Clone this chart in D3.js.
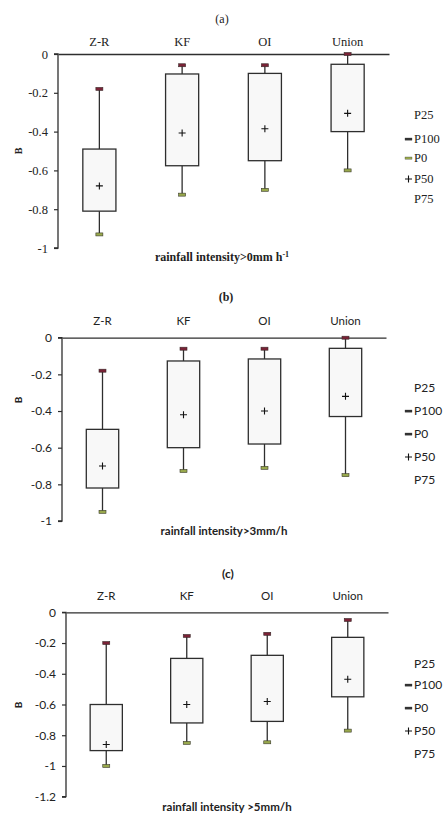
<!DOCTYPE html>
<html>
<head>
<meta charset="utf-8">
<script src="https://cdn.jsdelivr.net/npm/d3@7"></script>
<style>
  html, body { margin: 0; padding: 0; background: #fff; }
  svg { display: block; }
</style>
</head>
<body>
<svg id="chart" width="443" height="815"></svg>
<script>
// ---------------- DATA ----------------
const categories = ["Z-R", "KF", "OI", "Union"];
const legendLabels = ["P25", "P100", "P0", "P50", "P75"];

// Panel (a): rainfall intensity > 0 mm h-1
const a_p100 = [-0.18, -0.058, -0.058, 0.0];
const a_p25  = [-0.49, -0.103, -0.10, -0.053];
const a_p50  = [-0.68, -0.407, -0.385, -0.306];
const a_p75  = [-0.81, -0.576, -0.55, -0.40];
const a_p0   = [-0.93, -0.725, -0.70, -0.60];
const a_ticks = [0, -0.2, -0.4, -0.6, -0.8, -1];

// Panel (b): rainfall intensity > 3 mm/h
const b_p100 = [-0.18, -0.06, -0.06, 0.0];
const b_p25  = [-0.50, -0.127, -0.116, -0.058];
const b_p50  = [-0.70, -0.42, -0.40, -0.32];
const b_p75  = [-0.82, -0.60, -0.58, -0.43];
const b_p0   = [-0.95, -0.727, -0.71, -0.75];
const b_ticks = [0, -0.2, -0.4, -0.6, -0.8, -1];

// Panel (c): rainfall intensity > 5 mm/h
const c_p100 = [-0.20, -0.154, -0.14, -0.05];
const c_p25  = [-0.60, -0.30, -0.28, -0.163];
const c_p50  = [-0.86, -0.60, -0.58, -0.436];
const c_p75  = [-0.90, -0.72, -0.71, -0.55];
const c_p0   = [-1.00, -0.85, -0.846, -0.77];
const c_ticks = [0, -0.2, -0.4, -0.6, -0.8, -1, -1.2];

// ---------------- LAYOUT ----------------
const serif = "'Liberation Serif', 'DejaVu Serif', serif";
const sans = "Lato, 'Open Sans', 'Liberation Sans', sans-serif";

const panels = [
  { title: "(a)", titleY: 23, titleX: 222, font: serif, titleBold: false,
    x0: 58, x1: 389, yTop: 54, yBot: 248, yMin: -1,
    catY: 46, ticks: a_ticks,
    p100: a_p100, p25: a_p25, p50: a_p50, p75: a_p75, p0: a_p0,
    xlabel: "rainfall intensity>0mm h", xlabelSup: "-1", xlabelX: 222, xlabelY: 261,
    ylabelX: 18, ylabelY: 151,
    legX: 405, legY: [115, 139, 158, 179, 199], legendColoredP0: true,
    tickFS: 12.5, catFS: 12.5, legFS: 12.5, xlabFS: 12 },
  { title: "(b)", titleY: 301, titleX: 226, font: sans, titleBold: true, titleFont: serif,
    x0: 62, x1: 386, yTop: 337.7, yBot: 521, yMin: -1,
    catY: 325, ticks: b_ticks,
    p100: b_p100, p25: b_p25, p50: b_p50, p75: b_p75, p0: b_p0,
    xlabel: "rainfall intensity>3mm/h", xlabelSup: null, xlabelX: 224, xlabelY: 535,
    ylabelX: 18, ylabelY: 400,
    legX: 405, legY: [388, 411, 434, 457, 480], legendColoredP0: false,
    tickFS: 12, catFS: 11.5, legFS: 12, xlabFS: 11.5 },
  { title: "(c)", titleY: 578, titleX: 228, font: sans, titleBold: true,
    x0: 66, x1: 388, yTop: 612.3, yBot: 796.7, yMin: -1.2,
    catY: 600, ticks: c_ticks,
    p100: c_p100, p25: c_p25, p50: c_p50, p75: c_p75, p0: c_p0,
    xlabel: "rainfall intensity >5mm/h", xlabelSup: null, xlabelX: 227, xlabelY: 811,
    ylabelX: 18, ylabelY: 705,
    legX: 405, legY: [664, 685, 708, 731, 754], legendColoredP0: false,
    tickFS: 12, catFS: 11.5, legFS: 12, xlabFS: 11.5 }
];

const capMaxColor = "#7a2236";
const capMinColor = "#98a84c";
const lineColor = "#2e2e2e";

const svg = d3.select("#chart");

panels.forEach(p => {
  const g = svg.append("g");
  const x = d3.scaleBand().domain(categories).range([p.x0, p.x1]).padding(0);
  const y = d3.scaleLinear().domain([0, p.yMin]).range([p.yTop, p.yBot]);
  const bw = x.bandwidth() * 0.4;
  const capW = 7, capH = 3;

  // title
  g.append("text")
    .attr("x", p.titleX).attr("y", p.titleY)
    .attr("text-anchor", "middle")
    .style("font-family", p.titleFont || p.font)
    .style("font-size", "12px")
    .style("font-weight", p.titleBold ? "bold" : "normal")
    .attr("fill", "#222")
    .text(p.title);

  // y axis
  const yAxis = d3.axisLeft(y).tickValues(p.ticks).tickSize(4).tickPadding(6)
    .tickFormat(d => d === 0 ? "0" : String(+d.toFixed(1)));
  const ya = g.append("g").attr("transform", `translate(${p.x0},0)`).call(yAxis)
    .attr("font-family", null);
  ya.select(".domain").attr("stroke", lineColor).attr("stroke-width", 1.3)
    .attr("d", `M-4,${p.yTop}H0V${p.yBot}H-4`);
  ya.selectAll(".tick line").attr("stroke", lineColor).attr("stroke-width", 1.2);
  ya.selectAll(".tick text")
    .style("font-family", p.font).style("font-size", p.tickFS + "px")
    .attr("fill", "#222");

  // top zero line with category labels
  const xAxis = d3.axisTop(x).tickSize(0).tickPadding(0);
  const xa = g.append("g").attr("transform", `translate(0,${y(0)})`).call(xAxis)
    .attr("font-family", null);
  xa.select(".domain").attr("stroke", lineColor).attr("stroke-width", 1.3);
  xa.selectAll(".tick text")
    .attr("y", p.catY - y(0))
    .attr("dy", 0)
    .style("font-family", p.font).style("font-size", p.catFS + "px")
    .attr("fill", "#222");

  const cx = c => x(c) + x.bandwidth() / 2;
  const rows = categories.map((c, i) => ({
    c, p100: p.p100[i], p25: p.p25[i], p50: p.p50[i], p75: p.p75[i], p0: p.p0[i]
  }));

  // whiskers
  g.selectAll(".wu").data(rows).join("line")
    .attr("x1", d => cx(d.c)).attr("x2", d => cx(d.c))
    .attr("y1", d => y(d.p100)).attr("y2", d => y(d.p25))
    .attr("stroke", lineColor).attr("stroke-width", 1.3);
  g.selectAll(".wl").data(rows).join("line")
    .attr("x1", d => cx(d.c)).attr("x2", d => cx(d.c))
    .attr("y1", d => y(d.p75)).attr("y2", d => y(d.p0))
    .attr("stroke", lineColor).attr("stroke-width", 1.3);

  // boxes
  g.selectAll(".box").data(rows).join("rect")
    .attr("x", d => cx(d.c) - bw / 2).attr("width", bw)
    .attr("y", d => y(d.p25)).attr("height", d => y(d.p75) - y(d.p25))
    .attr("fill", "#f8f8f8").attr("stroke", lineColor).attr("stroke-width", 1.3);

  // caps
  g.selectAll(".cmax").data(rows).join("rect")
    .attr("x", d => cx(d.c) - capW / 2).attr("width", capW)
    .attr("y", d => y(d.p100) - capH / 2).attr("height", capH)
    .attr("fill", capMaxColor).attr("stroke", "#3a2a2a").attr("stroke-width", 0.6);
  g.selectAll(".cmin").data(rows).join("rect")
    .attr("x", d => cx(d.c) - capW / 2).attr("width", capW)
    .attr("y", d => y(d.p0) - capH / 2).attr("height", capH)
    .attr("fill", capMinColor).attr("stroke", "#3a3a2a").attr("stroke-width", 0.6);

  // medians (+)
  g.selectAll(".med").data(rows).join("path")
    .attr("transform", d => `translate(${cx(d.c)},${y(d.p50)})`)
    .attr("d", "M-3.5,0H3.5M0,-3.5V3.5")
    .attr("stroke", "#111").attr("stroke-width", 1.1).attr("fill", "none");

  // y label
  g.append("text")
    .attr("transform", `translate(${p.ylabelX},${p.ylabelY}) rotate(-90)`)
    .attr("text-anchor", "middle").attr("dy", "0.35em")
    .style("font-family", p.font).style("font-size", "10px").style("font-weight", "bold")
    .attr("fill", "#222")
    .text("B");

  // x label
  const xl = g.append("text")
    .attr("x", p.xlabelX).attr("y", p.xlabelY)
    .attr("text-anchor", "middle")
    .style("font-family", p.font).style("font-size", p.xlabFS + "px").style("font-weight", "bold")
    .attr("fill", "#222");
  xl.append("tspan").text(p.xlabel);
  if (p.xlabelSup) {
    xl.append("tspan").attr("dy", -4).style("font-size", "8px").text(p.xlabelSup);
  }

  // legend
  const leg = g.append("g");
  legendLabels.forEach((lab, i) => {
    const ly = p.legY[i];
    leg.append("text")
      .attr("x", p.legX + 9).attr("y", ly).attr("dy", "0.35em")
      .style("font-family", p.font).style("font-size", p.legFS + "px")
      .attr("fill", "#222").text(lab);
    if (lab === "P100" || lab === "P0") {
      const col = (lab === "P0" && p.legendColoredP0) ? capMinColor : "#333";
      leg.append("rect")
        .attr("x", p.legX).attr("y", ly - 1).attr("width", 7).attr("height", 2.2)
        .attr("fill", col).attr("stroke", "#333").attr("stroke-width", 0.3);
    } else if (lab === "P50") {
      leg.append("path")
        .attr("transform", `translate(${p.legX + 3.5},${ly})`)
        .attr("d", "M-3.5,0H3.5M0,-3.5V3.5")
        .attr("stroke", "#111").attr("stroke-width", 1.1);
    }
  });
});
</script>
</body>
</html>
